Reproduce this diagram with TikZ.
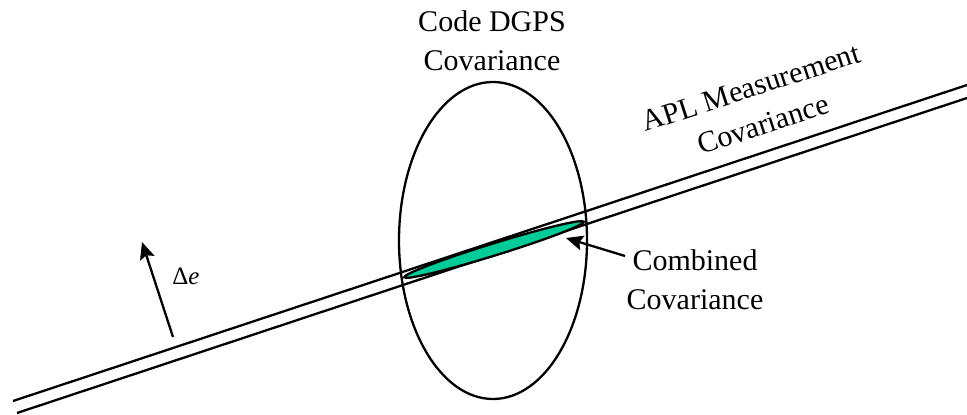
\documentclass[tikz,border=0pt]{standalone}
\usepackage{fontspec}
\setmainfont{Liberation Serif}
\usetikzlibrary{arrows.meta,shapes.geometric}
\definecolor{combgreen}{RGB}{0,204,153}
\begin{document}
\begin{tikzpicture}[x=1pt,y=-1pt,
  stroke/.style={line width=2.3pt, black},
  label/.style={align=center, font=\fontsize{30}{39}\selectfont, inner sep=0pt},
  pointer/.style={line width=2.3pt, -{Stealth[length=17pt,width=15pt,inset=3pt]}}]
  \useasboundingbox (0,0) rectangle (967,415);
  % measurement band: two parallel lines
  \coordinate (ua) at (13,401);
  \coordinate (ub) at (967,85);
  \coordinate (la) at (17,413);
  \coordinate (lb) at (967,98);
  \draw[stroke] (ua) -- (ub);
  \draw[stroke] (la) -- (lb);
  % code DGPS covariance ellipse
  \draw[stroke] (493,240.5) ellipse [x radius=94pt, y radius=158.5pt];
  % combined covariance
  \node[ellipse, draw, line width=2.3pt, fill=combgreen, rotate=17.2,
        minimum width=188pt, minimum height=12pt, inner sep=0pt] (comb) at (494,249.5) {};
  % labels
  \node[label] (dgps) at (492,41) {Code DGPS\\Covariance};
  \node[label, rotate=18] (apl) at (757,106) {APL Measurement\\Covariance};
  \node[label] (combl) at (695,280) {Combined\\Covariance};
  \node[inner sep=0pt, font=\fontsize{25}{30}\selectfont] (de) at (186,276) {Δ\textit{e}};
  % arrows
  \coordinate (combtail) at (625,256);
  \coordinate (combtip) at (566,238);
  \draw[pointer] (combtail) -- (combtip);
  \coordinate (detail) at (173,337);
  \coordinate (detip) at (142,242);
  \draw[pointer] (detail) -- (detip);
\end{tikzpicture}
\end{document}
